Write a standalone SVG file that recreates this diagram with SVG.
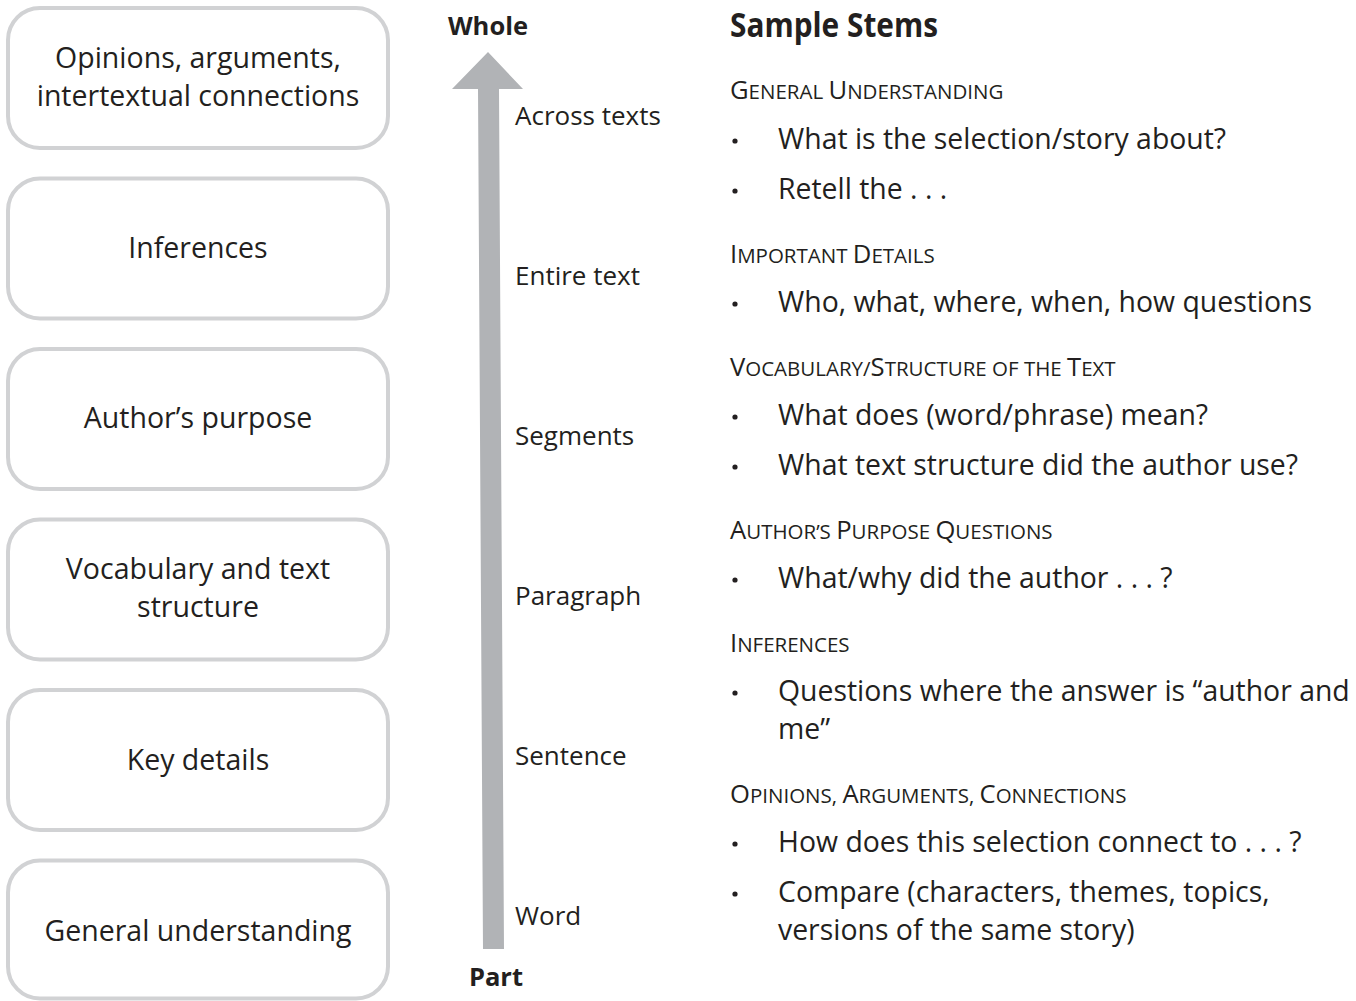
<svg xmlns="http://www.w3.org/2000/svg" width="1356" height="1001" viewBox="0 0 1356 1001">
  <style>
    .box { fill: #ffffff; stroke: #d1d2d4; stroke-width: 4; }
    .t { font-family: "Open Sans", "Noto Sans", "Liberation Sans", sans-serif; fill: #231f20; }
    .boxtxt { font-size: 28.5px; text-anchor: middle; }
    .lvl { font-size: 26px; }
    .end { font-size: 25.5px; font-weight: bold; text-anchor: middle; }
    .title { font-size: 34px; font-weight: bold; }
    .hd { font-size: 20.5px; }
    .hd .cap { font-size: 25.6px; }
    .item { font-size: 28.4px; }
    .bullet { fill: #231f20; }
  </style>

  <!-- comprehension levels -->
  <g id="node-opinions">
    <rect class="box" x="8" y="8" width="380" height="140" rx="32"/>
    <text class="t boxtxt" x="198" y="68">Opinions, arguments,</text>
    <text class="t boxtxt" x="198" y="106">intertextual connections</text>
  </g>
  <g id="node-inferences">
    <rect class="box" x="8" y="178.5" width="380" height="140" rx="32"/>
    <text class="t boxtxt" x="198" y="258">Inferences</text>
  </g>
  <g id="node-purpose">
    <rect class="box" x="8" y="349" width="380" height="140" rx="32"/>
    <text class="t boxtxt" x="198" y="428">Author’s purpose</text>
  </g>
  <g id="node-vocabulary">
    <rect class="box" x="8" y="519.5" width="380" height="140" rx="32"/>
    <text class="t boxtxt" x="198" y="579">Vocabulary and text</text>
    <text class="t boxtxt" x="198" y="617">structure</text>
  </g>
  <g id="node-details">
    <rect class="box" x="8" y="690" width="380" height="140" rx="32"/>
    <text class="t boxtxt" x="198" y="770">Key details</text>
  </g>
  <g id="node-general">
    <rect class="box" x="8" y="860.5" width="380" height="138" rx="32"/>
    <text class="t boxtxt" x="198" y="941">General understanding</text>
  </g>

  <!-- part-to-whole scale -->
  <g id="connectors">
    <polygon fill="#b1b3b6" points="488,52 523,89 499,89 504,949 483,949 478,89 452,89"/>
  </g>
  <g id="scale-labels">
    <text class="t end" x="488" y="35">Whole</text>
    <text class="t end" x="496" y="986">Part</text>
    <text class="t lvl" x="515" y="125">Across texts</text>
    <text class="t lvl" x="515" y="285">Entire text</text>
    <text class="t lvl" x="515" y="445">Segments</text>
    <text class="t lvl" x="515" y="605">Paragraph</text>
    <text class="t lvl" x="515" y="765">Sentence</text>
    <text class="t lvl" x="515" y="925">Word</text>
  </g>

  <!-- sample question stems -->
  <g id="stems">
    <text class="t title" x="730" y="37" textLength="208" lengthAdjust="spacingAndGlyphs">Sample Stems</text>

    <text class="t hd" x="730" y="99"><tspan class="cap">G</tspan>ENERAL <tspan class="cap">U</tspan>NDERSTANDING</text>
    <circle class="bullet" cx="735" cy="141" r="2.6"/>
    <text class="t item" x="778" y="149">What is the selection/story about?</text>
    <circle class="bullet" cx="735" cy="191" r="2.6"/>
    <text class="t item" x="778" y="199">Retell the . . .</text>

    <text class="t hd" x="730" y="263"><tspan class="cap">I</tspan>MPORTANT <tspan class="cap">D</tspan>ETAILS</text>
    <circle class="bullet" cx="735" cy="304" r="2.6"/>
    <text class="t item" x="778" y="312">Who, what, where, when, how questions</text>

    <text class="t hd" x="730" y="376"><tspan class="cap">V</tspan>OCABULARY/<tspan class="cap">S</tspan>TRUCTURE OF THE <tspan class="cap">T</tspan>EXT</text>
    <circle class="bullet" cx="735" cy="417" r="2.6"/>
    <text class="t item" x="778" y="425">What does (word/phrase) mean?</text>
    <circle class="bullet" cx="735" cy="467" r="2.6"/>
    <text class="t item" x="778" y="475">What text structure did the author use?</text>

    <text class="t hd" x="730" y="539"><tspan class="cap">A</tspan>UTHOR’S <tspan class="cap">P</tspan>URPOSE <tspan class="cap">Q</tspan>UESTIONS</text>
    <circle class="bullet" cx="735" cy="580" r="2.6"/>
    <text class="t item" x="778" y="588">What/why did the author . . . ?</text>

    <text class="t hd" x="730" y="652"><tspan class="cap">I</tspan>NFERENCES</text>
    <circle class="bullet" cx="735" cy="693" r="2.6"/>
    <text class="t item" x="778" y="701">Questions where the answer is “author and</text>
    <text class="t item" x="778" y="739">me”</text>

    <text class="t hd" x="730" y="803"><tspan class="cap">O</tspan>PINIONS, <tspan class="cap">A</tspan>RGUMENTS, <tspan class="cap">C</tspan>ONNECTIONS</text>
    <circle class="bullet" cx="735" cy="844" r="2.6"/>
    <text class="t item" x="778" y="852">How does this selection connect to . . . ?</text>
    <circle class="bullet" cx="735" cy="894" r="2.6"/>
    <text class="t item" x="778" y="902">Compare (characters, themes, topics,</text>
    <text class="t item" x="778" y="940">versions of the same story)</text>
  </g>
</svg>
